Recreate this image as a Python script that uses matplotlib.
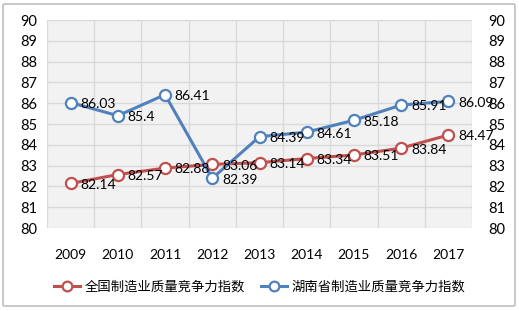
import matplotlib.pyplot as plt
from matplotlib.patches import FancyBboxPatch
from matplotlib.lines import Line2D

plt.rcParams['font.family'] = ['Lato', 'Noto Sans CJK SC', 'DejaVu Sans']

years = ['2009', '2010', '2011', '2012', '2013', '2014', '2015', '2016', '2017']
national = [82.14, 82.57, 82.88, 83.06, 83.14, 83.34, 83.51, 83.84, 84.47]
hunan = [86.03, 85.4, 86.41, 82.39, 84.39, 84.61, 85.18, 85.91, 86.09]
national_labels = ['82.14', '82.57', '82.88', '83.06', '83.14', '83.34', '83.51', '83.84', '84.47']
hunan_labels = ['86.03', '85.4', '86.41', '82.39', '84.39', '84.61', '85.18', '85.91', '86.09']
series_names = ['全国制造业质量竞争力指数', '湖南省制造业质量竞争力指数']

red = '#C0504D'
blue = '#4F81BD'

fig = plt.figure(figsize=(5.19, 3.11), dpi=100)
fig.patch.set_facecolor('white')
border = FancyBboxPatch((3 / 519, 5 / 311), 512 / 519, 302 / 311,
                        boxstyle='round,pad=0,rounding_size=0.004',
                        transform=fig.transFigure, fill=False,
                        edgecolor='#bfbfbf', linewidth=1.2)
fig.patches.append(border)

ax = fig.add_axes([47 / 519, 1 - 228 / 311, 425 / 519, 208 / 311])
ax.set_facecolor('#f2f2f2')
x = list(range(len(years)))

ax.plot(x, national, color=red, lw=2.2, marker='o', ms=8,
        mfc='white', mec=red, mew=1.6, zorder=3)
ax.plot(x, hunan, color=blue, lw=2.2, marker='o', ms=8,
        mfc='white', mec=blue, mew=1.6, zorder=3)

for xi, v, t in zip(x, national, national_labels):
    ax.annotate(t, (xi, v), xytext=(7, -1), textcoords='offset points',
                ha='left', va='center', fontsize=10, color='black', zorder=4)
for xi, v, t in zip(x, hunan, hunan_labels):
    ax.annotate(t, (xi, v), xytext=(7, -1), textcoords='offset points',
                ha='left', va='center', fontsize=10, color='black', zorder=4)

ax.set_xlim(-0.5, len(years) - 0.5)
ax.set_ylim(80, 90)
ax.set_yticks(range(80, 91))
ax.set_xticks(x)
ax.set_xticklabels(years, fontsize=10)
ax.set_xticks([i - 0.5 for i in range(len(years) + 1)], minor=True)
ax.grid(False)
ax.grid(True, which='minor', axis='x', color='#d9d9d9', lw=1)
ax.grid(True, which='major', axis='y', color='#d9d9d9', lw=1)
ax.set_axisbelow(True)
ax.tick_params(axis='x', which='both', length=0, pad=15)
ax.tick_params(axis='y', length=0, labelsize=10.5, pad=7)
for s in ax.spines.values():
    s.set_visible(False)

ax2 = ax.twinx()
ax2.set_ylim(80, 90)
ax2.set_yticks(range(80, 91))
ax2.tick_params(axis='y', length=0, labelsize=10.5, pad=12)
for s in ax2.spines.values():
    s.set_visible(False)

handles = [Line2D([], [], color=red, lw=2.2, marker='o', ms=7, mfc='white', mec=red, mew=1.6),
           Line2D([], [], color=blue, lw=2.2, marker='o', ms=7, mfc='white', mec=blue, mew=1.6)]
fig.legend(handles, series_names, loc='center', bbox_to_anchor=(0.5, 1 - 287 / 311),
           ncol=2, frameon=False, handlelength=2.0, columnspacing=1.2,
           handletextpad=0.3, prop={'family': ['Noto Sans CJK SC'], 'size': 9.6})

fig.savefig('out.png', dpi=100)
